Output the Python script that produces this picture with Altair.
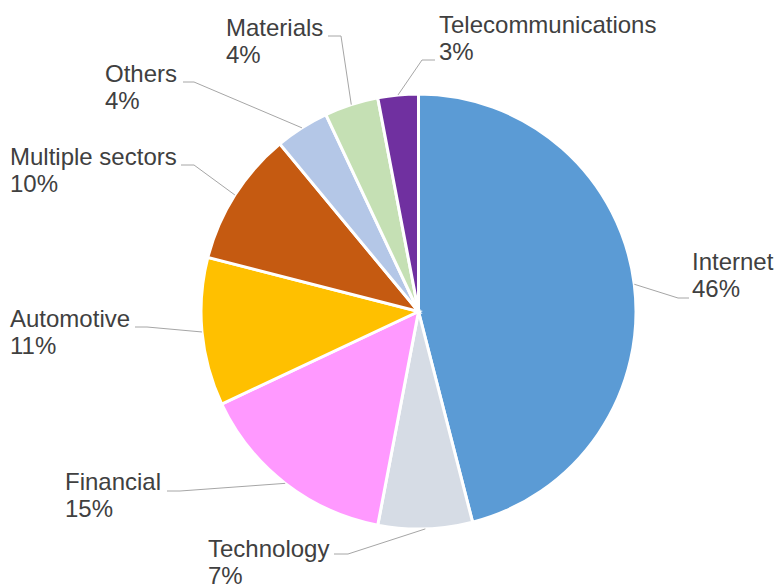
import math
import altair as alt
import pandas as pd

# ---- data ----
categories = ["Internet", "Technology", "Financial", "Automotive",
              "Multiple sectors", "Others", "Materials", "Telecommunications"]
values = [46, 7, 15, 11, 10, 4, 4, 3]
pct_labels = ["46%", "7%", "15%", "11%", "10%", "4%", "4%", "3%"]
colors = ["#5B9BD5", "#D6DCE5", "#FF99FF", "#FFC000",
          "#C55A11", "#B4C7E7", "#C5E0B4", "#7030A0"]

# ---- layout (image pixel coordinates) ----
W, H = 767, 580
CX, CY, R = 418.5, 311.5, 217.5
label_pos = {
    "Internet": (692, 270),
    "Technology": (208, 557),
    "Financial": (65, 490),
    "Automotive": (10, 327),
    "Multiple sectors": (10, 165),
    "Others": (105, 82),
    "Materials": (226, 36),
    "Telecommunications": (439, 33),
}
elbow_pos = {
    "Internet": (678, 298),
    "Technology": (348, 554),
    "Financial": (180, 491),
    "Automotive": (147, 327),
    "Multiple sectors": (194, 165),
    "Others": (194, 82),
    "Materials": (341, 36),
    "Telecommunications": (422, 60),
}
end_pos = {
    "Internet": (689, 298),
    "Technology": (334, 554),
    "Financial": (167, 491),
    "Automotive": (135, 327),
    "Multiple sectors": (181, 165),
    "Others": (183, 82),
    "Materials": (328, 36),
    "Telecommunications": (435, 60),
}

total = sum(values)
pie_df = pd.DataFrame({"category": categories, "value": values,
                       "order": list(range(len(categories)))})

line_rows = []
text_rows = []
cum = 0
for cat, v, p in zip(categories, values, pct_labels):
    mid = (cum + v / 2) / total * 2 * math.pi
    cum += v
    ax = CX + R * math.sin(mid)
    ay = CY - R * math.cos(mid)
    pts = [(ax, ay), elbow_pos[cat], end_pos[cat]]
    for i, (x, y) in enumerate(pts):
        line_rows.append({"category": cat, "step": i, "x": x, "y": y})
    lx, ly = label_pos[cat]
    text_rows.append({"category": cat, "x": lx, "y": ly, "label": cat + "\n" + p})

line_df = pd.DataFrame(line_rows)
text_df = pd.DataFrame(text_rows)

xs = alt.Scale(domain=[8, 8 + W], range=[0, W])
ys = alt.Scale(domain=[8, 8 + H], range=[0, H])

pie = alt.Chart(pie_df).mark_arc(radius=R, stroke="white", strokeWidth=3).encode(
    theta=alt.Theta("value:Q", stack=True),
    order=alt.Order("order:Q"),
    color=alt.Color("category:N", scale=alt.Scale(domain=categories, range=colors),
                    legend=None),
    x=alt.value(CX - 8),
    y=alt.value(CY - 8),
)

lines = alt.Chart(line_df).mark_line(color="#A6A6A6", strokeWidth=1).encode(
    x=alt.X("x:Q", scale=xs, axis=None),
    y=alt.Y("y:Q", scale=ys, axis=None),
    detail="category:N",
    order="step:Q",
)

texts = alt.Chart(text_df).mark_text(
    align="left", baseline="alphabetic", font="Liberation Sans", fontSize=24,
    color="#404040", lineBreak="\n", lineHeight=27,
).encode(
    x=alt.X("x:Q", scale=xs, axis=None),
    y=alt.Y("y:Q", scale=ys, axis=None),
    text="label:N",
)

chart = alt.layer(pie, lines, texts).properties(
    width=W, height=H, autosize="none", padding=0,
).configure_view(stroke=None)

chart.save("out.html", embed_options={"renderer": "svg", "actions": False})
